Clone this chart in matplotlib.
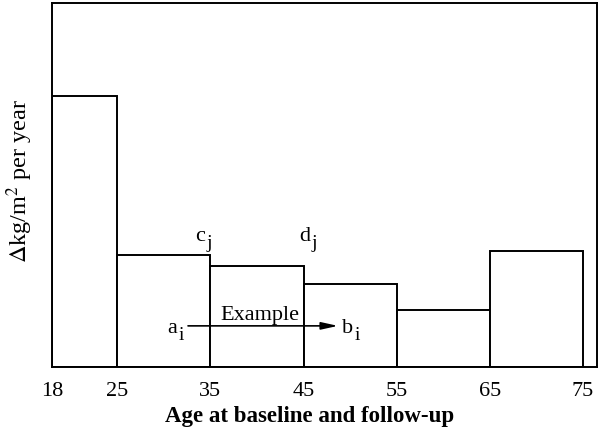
import matplotlib.pyplot as plt

plt.rcParams['font.family'] = ['Liberation Serif', 'DejaVu Serif']
plt.rcParams['mathtext.fontset'] = 'stix'

# age bands (bin edges) and relative change per band
edges = [18, 25, 35, 45, 55, 65, 75]
heights = [0.745, 0.308, 0.277, 0.228, 0.157, 0.319]
tick_labels = ['18', '25', '35', '45', '55', '65', '75']

lefts = edges[:-1]
widths = [b - a for a, b in zip(edges[:-1], edges[1:])]

fig = plt.figure(figsize=(6, 4.35), dpi=100)
ax = fig.add_axes([52 / 600, 67 / 435, 545 / 600, 364 / 435])

ax.bar(lefts, heights, width=widths, align='edge', color='white',
       edgecolor='black', linewidth=1.4)

ax.set_xlim(18, 76.5)
ax.set_ylim(0, 1)
ax.set_xticks(edges)
ax.set_xticklabels(tick_labels, fontsize=16)
ax.set_yticks([])
ax.tick_params(axis='x', length=0, pad=10)
for s in ax.spines.values():
    s.set_linewidth(1.4)

# axis titles placed where they sit in the original
fig.text(310 / 600, 1 - 417 / 435, 'Age at baseline and follow-up',
         fontsize=16.5, fontweight='bold', ha='center', va='center')
fig.text(20 / 600, 1 - 181 / 435, r'$\Delta$kg/m$^2$ per year',
         fontsize=17.5, rotation=90, ha='center', va='center')


def subscripted(x, y, main, sub):
    # letter with a large, dropped subscript, as in the original figure
    ax.text(x, y, main, fontsize=16, ha='right', va='baseline')
    ax.annotate(sub, xy=(x, y), xytext=(1, -5), textcoords='offset points',
                fontsize=14, ha='left', va='baseline')


subscripted(34.42, 0.349, 'c', 'j')
subscripted(45.68, 0.349, 'd', 'j')
subscripted(31.41, 0.096, 'a', 'i')
subscripted(50.3, 0.096, 'b', 'i')
ax.text(40.3, 0.132, 'Example', fontsize=16, ha='center', va='baseline')
ax.annotate('', xy=(48.7, 0.113), xytext=(32.6, 0.113),
            arrowprops=dict(arrowstyle='-|>,head_length=1.0,head_width=0.22',
                            color='black', lw=1.2, shrinkA=0, shrinkB=0))

fig.savefig('out.png', dpi=100)
